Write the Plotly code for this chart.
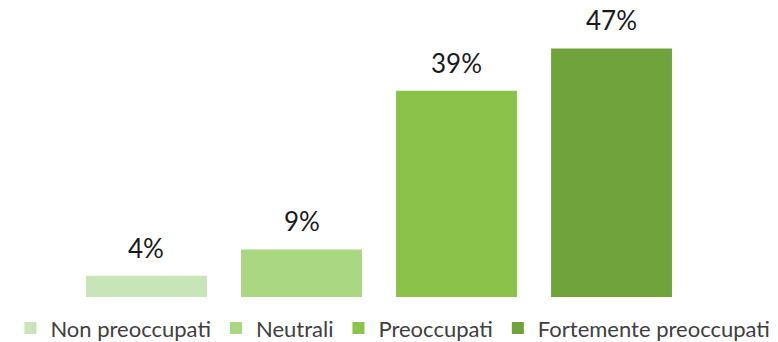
import plotly.graph_objects as go

categories = ["Non preoccupati", "Neutrali", "Preoccupati", "Fortemente preoccupati"]
values = [4, 9, 39, 47]
labels = ["4%", "9%", "39%", "47%"]
colors = ["#c8e5b9", "#a9d782", "#8bc34a", "#71a33d"]

fig = go.Figure()
for c, v, col in zip(categories, values, colors):
    fig.add_trace(go.Bar(x=[c], y=[v], name=c, marker=dict(color=col, line=dict(width=0)),
                         hoverinfo="skip"))

for c, v, t in zip(categories, values, labels):
    fig.add_annotation(x=c, y=v, text=t, showarrow=False, yanchor="bottom", yshift=10,
                       font=dict(size=26, color="#1a1a1a", family="Lato"))

fig.update_layout(
    width=778, height=342,
    margin=dict(l=0, r=0, t=22, b=44.5),
    paper_bgcolor="white", plot_bgcolor="white",
    barmode="overlay", bargap=0.22,
    showlegend=True,
    legend=dict(orientation="h", xref="container", yref="container",
                x=0.505, xanchor="center", y=0.04, yanchor="middle",
                font=dict(size=22, color="#404040", family="Lato"),
                itemwidth=30, tracegroupgap=0),
    font=dict(family="Lato"),
    xaxis=dict(visible=False, categoryorder="array", categoryarray=categories,
               range=[-0.945, 4.074]),
    yaxis=dict(visible=False, range=[0, 52]),
)
fig.write_html("out.html")
